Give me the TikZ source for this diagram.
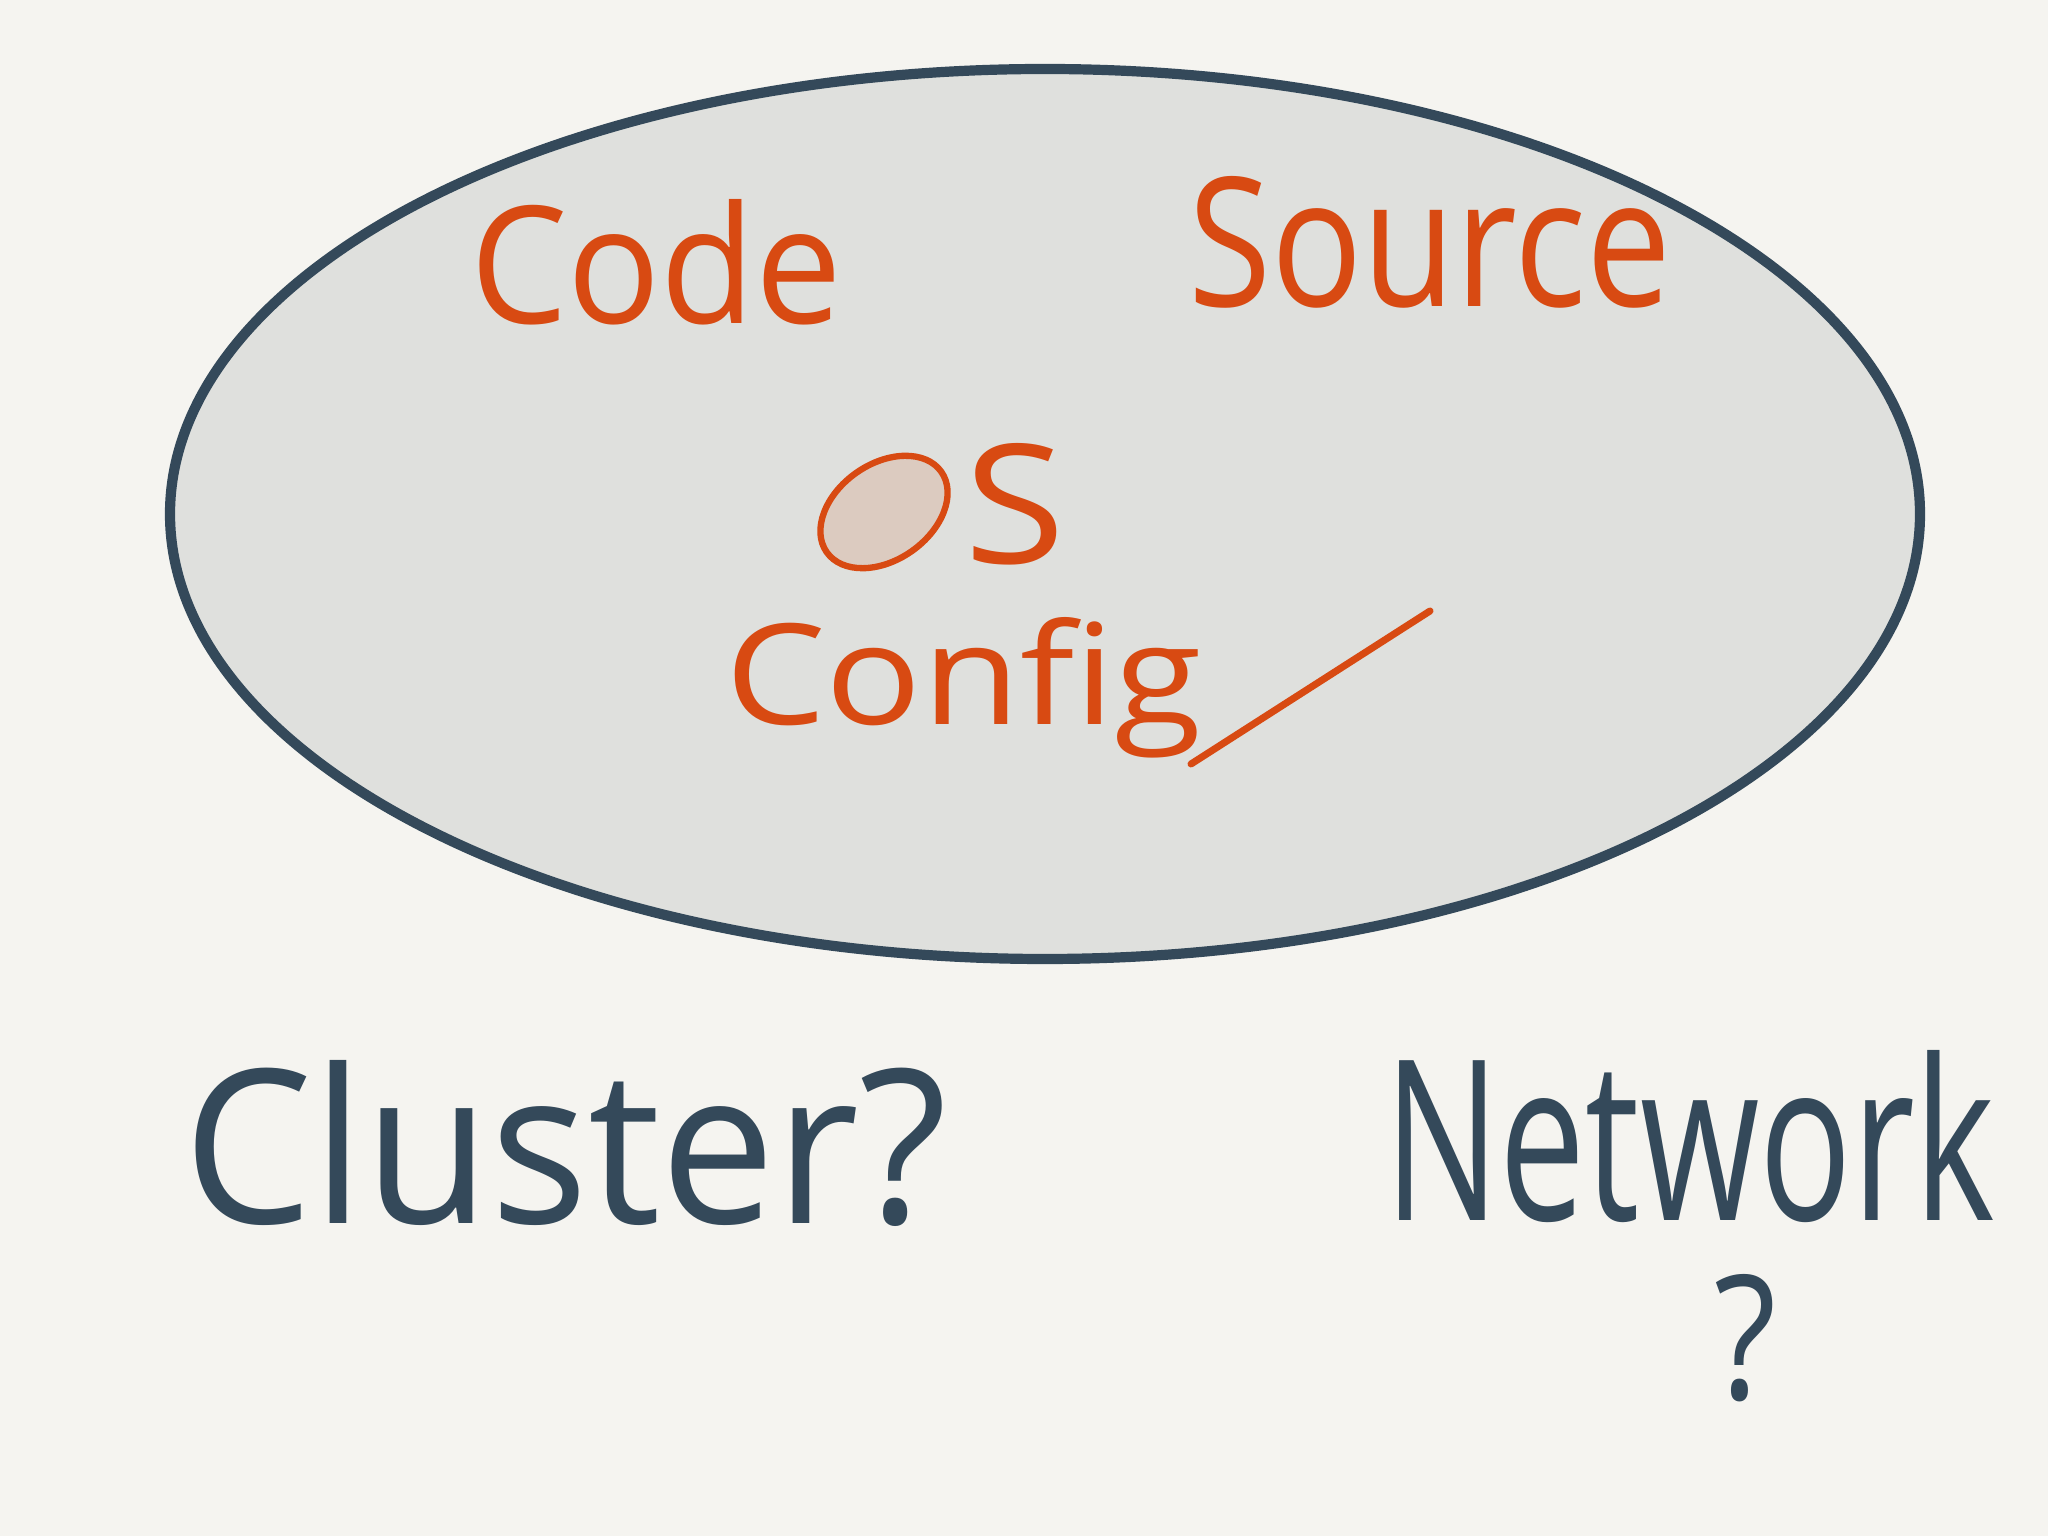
\documentclass[tikz,border=0pt]{standalone}
\usepackage{fontspec}
\usepackage{graphicx}
\setmainfont{Open Sans}
\definecolor{bgc}{HTML}{F5F4F0}
\definecolor{blobfill}{HTML}{DFE0DD}
\definecolor{ink}{HTML}{34495A}
\definecolor{orng}{HTML}{D84A12}
\definecolor{ofill}{HTML}{DCCBC0}
\begin{document}
\begin{tikzpicture}[x=0.01cm,y=0.01cm,
  orangetext/.style={inner sep=0pt,outer sep=0pt,text=orng},
  inktext/.style={inner sep=0pt,outer sep=0pt,text=ink}]
\fill[bgc] (0,0) rectangle (2048,1536);
\useasboundingbox (0,0) rectangle (2048,1536);
% big ellipse
\draw[ink,line width=2.9pt,fill=blobfill] (1045,1022) ellipse [x radius=875,y radius=445];
% top labels
\node[orangetext,anchor=base west] (code) at (470,1212) {\resizebox{3.72cm}{1.24cm}{Code}};
\node[orangetext,anchor=base west] (source) at (1188,1229) {\resizebox{4.83cm}{1.30cm}{Source}};
% OS
\draw[orng,line width=1.8pt,fill=ofill,rotate around={35:(884,1024)}] (884,1024) ellipse [x radius=70,y radius=48];
\node[orangetext,anchor=base west] (s) at (964,972) {\resizebox{1.01cm}{1.20cm}{S}};
% Config
\node[orangetext,anchor=base west] (config) at (725,811) {\resizebox{4.77cm}{1.07cm}{Config}};
\coordinate (tailstart) at (1191,772);
\coordinate (tailend) at (1430,925);
\draw[orng,line width=2pt,line cap=round] (tailstart) -- (tailend);
% bottom labels
\node[inktext,anchor=base west] (cluster) at (183,312) {\resizebox{7.64cm}{1.63cm}{Cluster?}};
\node[inktext,anchor=base west] (network) at (1384,315) {\resizebox{6.11cm}{1.70cm}{Network}};
\node[inktext,anchor=base west] (netq) at (1714,136) {\resizebox{0.62cm}{1.25cm}{?}};
\end{tikzpicture}
\end{document}
